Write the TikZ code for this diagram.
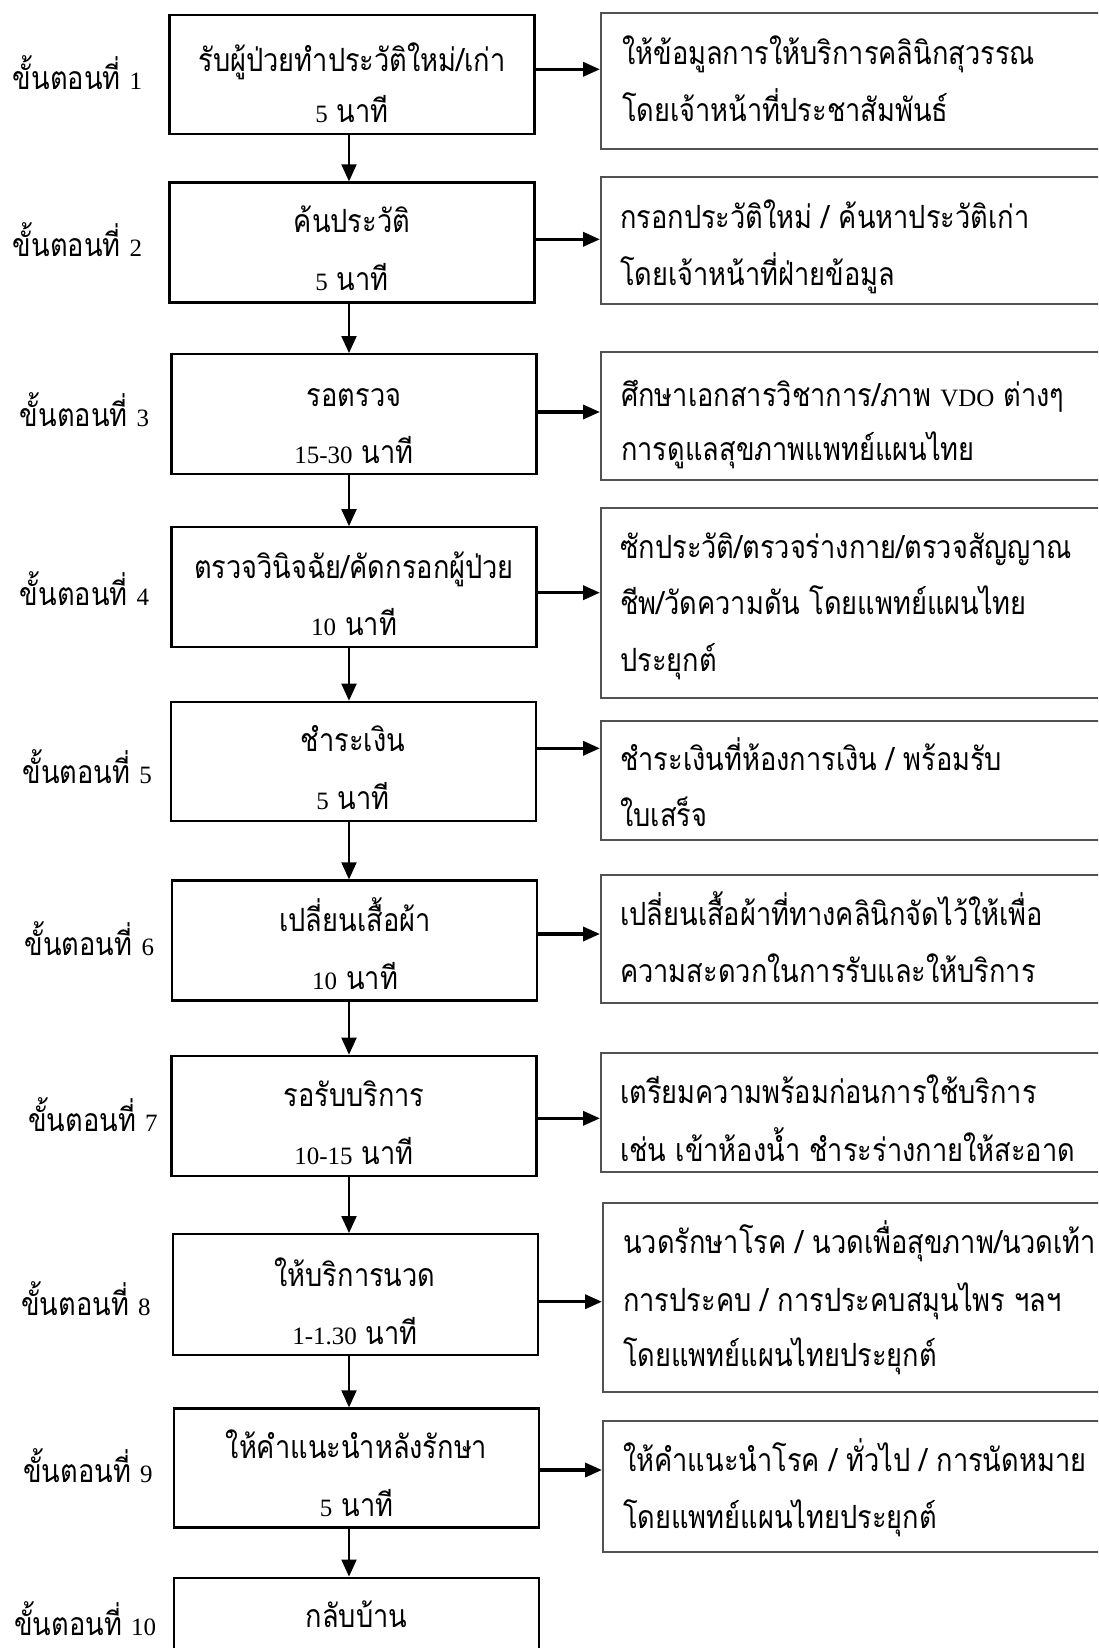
\documentclass[tikz,border=0pt]{standalone}
\usepackage{fontspec}
\setmainfont{Liberation Serif}
\newfontfamily\thaifont[Script=Thai,FakeStretch=0.85]{Loma}
\newfontfamily\latfont[Scale=0.78]{Liberation Serif}
\newcommand\ltn[1]{{\latfont #1}}
\usetikzlibrary{arrows.meta}
\tikzset{
  mainbox/.style={draw=black, line width=2.3pt, minimum width=365pt, inner sep=0pt},
  sidebox/.style={draw=black!68, line width=2pt, minimum width=520pt, anchor=west, inner sep=0pt},
  vlink/.style={line width=2pt, -{Triangle[length=17pt,width=15pt]}},
  hlink/.style={line width=3.5pt, -{Triangle[length=17pt,width=14pt]}},
  thaitext/.style={inner sep=0pt, font={\thaifont\fontsize{32}{38}\selectfont}},
  ctext/.style={thaitext, anchor=base},
  ltext/.style={thaitext, anchor=base west},
}
\begin{document}
\begin{tikzpicture}[x=1pt,y=-1pt]
\useasboundingbox (0,0) rectangle (1098,1648);
\clip (0,0) rectangle (1098,1648);
\fill[white] (0,0) rectangle (1098,1648);

% step boxes down the middle
\node[mainbox, minimum height=119pt] (m1)  at (352,74.5) {};
\node[mainbox, minimum height=120pt] (m2)  at (352,242.5) {};
\node[mainbox, minimum height=120pt] (m3)  at (354,414.2) {};
\node[mainbox, minimum height=120pt] (m4)  at (354,587.3) {};
\node[mainbox, minimum height=119pt] (m5)  at (353.3,761.3) {};
\node[mainbox, minimum height=120pt] (m6)  at (354.7,940.5) {};
\node[mainbox, minimum height=120pt] (m7)  at (354,1115.8) {};
\node[mainbox, minimum height=121pt] (m8)  at (355.4,1294.7) {};
\node[mainbox, minimum height=119pt] (m9)  at (356.5,1468) {};
\node[mainbox, minimum height=120pt] (m10) at (356.5,1637.7) {};

% detail boxes on the right
\node[sidebox, minimum height=136pt] (s1) at (600,80.7) {};
\node[sidebox, minimum height=127pt] (s2) at (600,240.7) {};
\node[sidebox, minimum height=128pt] (s3) at (600,415.9) {};
\node[sidebox, minimum height=190pt] (s4) at (600,602.5) {};
\node[sidebox, minimum height=119pt] (s5) at (600,780) {};
\node[sidebox, minimum height=128pt] (s6) at (600,939.3) {};
\node[sidebox, minimum height=119pt] (s7) at (600,1112.8) {};
\node[sidebox, minimum height=189pt] (s8) at (602,1297.2) {};
\node[sidebox, minimum height=131pt] (s9) at (602,1486.2) {};

% step labels
\node[ltext] (l1)  at (12.6,90)    {ขั้นตอนที่ \ltn{1}};
\node[ltext] (l2)  at (12.6,256)   {ขั้นตอนที่ \ltn{2}};
\node[ltext] (l3)  at (19.6,426.7) {ขั้นตอนที่ \ltn{3}};
\node[ltext] (l4)  at (19.6,605.7) {ขั้นตอนที่ \ltn{4}};
\node[ltext] (l5)  at (22.4,783.3) {ขั้นตอนที่ \ltn{5}};
\node[ltext] (l6)  at (24.5,955)   {ขั้นตอนที่ \ltn{6}};
\node[ltext] (l7)  at (28,1131.7)  {ขั้นตอนที่ \ltn{7}};
\node[ltext] (l8)  at (21,1315)    {ขั้นตอนที่ \ltn{8}};
\node[ltext] (l9)  at (23,1482.7)  {ขั้นตอนที่ \ltn{9}};
\node[ltext] (l10) at (14,1635)    {ขั้นตอนที่ \ltn{10}};

% step titles and times
\node[ctext] (t1a) at (352,71.5)   {รับผู้ป่วยทำประวัติใหม่/เก่า};
\node[ctext] (t1b) at (352,123)    {\ltn{5} นาที};
\node[ctext] (t2a) at (352,232.5)  {ค้นประวัติ};
\node[ctext] (t2b) at (352,290)    {\ltn{5} นาที};
\node[ctext] (t3a) at (354,406.5)  {รอตรวจ};
\node[ctext] (t3b) at (354,463)    {\ltn{15-30} นาที};
\node[ctext] (t4a) at (354,578)    {ตรวจวินิจฉัย/คัดกรอกผู้ป่วย};
\node[ctext] (t4b) at (354,635)    {\ltn{10} นาที};
\node[ctext] (t5a) at (353,751.5)  {ชำระเงิน};
\node[ctext] (t5b) at (353,809)    {\ltn{5} นาที};
\node[ctext] (t6a) at (355,931)    {เปลี่ยนเสื้อผ้า};
\node[ctext] (t6b) at (355,989)    {\ltn{10} นาที};
\node[ctext] (t7a) at (354,1106)   {รอรับบริการ};
\node[ctext] (t7b) at (354,1164)   {\ltn{10-15} นาที};
\node[ctext] (t8a) at (355,1286)   {ให้บริการนวด};
\node[ctext] (t8b) at (355,1344)   {\ltn{1-1.30} นาที};
\node[ctext] (t9a) at (356.5,1458) {ให้คำแนะนำหลังรักษา};
\node[ctext] (t9b) at (356.5,1516) {\ltn{5} นาที};
\node[ctext] (t10) at (356.5,1627.5) {กลับบ้าน};

% details
\node[ltext] (u1a) at (622,65)     {ให้ข้อมูลการให้บริการคลินิกสุวรรณ};
\node[ltext] (u1b) at (622,122)    {โดยเจ้าหน้าที่ประชาสัมพันธ์};
\node[ltext] (u2a) at (620,228.3)  {กรอกประวัติใหม่ / ค้นหาประวัติเก่า};
\node[ltext] (u2b) at (620,285)    {โดยเจ้าหน้าที่ฝ่ายข้อมูล};
\node[ltext] (u3a) at (621,406.7)  {ศึกษาเอกสารวิชาการ/ภาพ \ltn{VDO} ต่างๆ};
\node[ltext] (u3b) at (621,460)    {การดูแลสุขภาพแพทย์แผนไทย};
\node[ltext] (u4a) at (620,558.3)  {ซักประวัติ/ตรวจร่างกาย/ตรวจสัญญาณ};
\node[ltext] (u4b) at (620,614.3)  {ชีพ/วัดความดัน โดยแพทย์แผนไทย};
\node[ltext] (u4c) at (620,671.7)  {ประยุกต์};
\node[ltext] (u5a) at (620,770)    {ชำระเงินที่ห้องการเงิน / พร้อมรับ};
\node[ltext] (u5b) at (620,826.7)  {ใบเสร็จ};
\node[ltext] (u6a) at (620,925)    {เปลี่ยนเสื้อผ้าที่ทางคลินิกจัดไว้ให้เพื่อ};
\node[ltext] (u6b) at (620,982.7)  {ความสะดวกในการรับและให้บริการ};
\node[ltext] (u7a) at (620,1103.3) {เตรียมความพร้อมก่อนการใช้บริการ};
\node[ltext] (u7b) at (620,1161.7) {เช่น เข้าห้องน้ำ ชำระร่างกายให้สะอาด};
\node[ltext] (u8a) at (623,1253.3) {นวดรักษาโรค / นวดเพื่อสุขภาพ/นวดเท้า};
\node[ltext] (u8b) at (623,1311.7) {การประคบ / การประคบสมุนไพร ฯลฯ};
\node[ltext] (u8c) at (623,1366.7) {โดยแพทย์แผนไทยประยุกต์};
\node[ltext] (u9a) at (623,1471.7) {ให้คำแนะนำโรค / ทั่วไป / การนัดหมาย};
\node[ltext] (u9b) at (623,1528.3) {โดยแพทย์แผนไทยประยุกต์};

% flow down the steps
\coordinate (ax) at (349,0);
\foreach \a/\b in {m1/m2,m2/m3,m3/m4,m4/m5,m5/m6,m6/m7,m7/m8,m8/m9,m9/m10}
  \draw[vlink] (\a.south -| ax) -- (\b.north -| ax);

% links to the detail boxes
\foreach \i/\dy in {1/5.2,2/3.2,3/2.2,4/-5.4,5/13,6/6.5,7/-2.5,8/-7,9/-2}{
  \coordinate (h\i) at ([yshift=\dy pt]m\i.east);
  \draw[hlink] (h\i) -- (h\i -| s\i.west);
}
\end{tikzpicture}
\end{document}
